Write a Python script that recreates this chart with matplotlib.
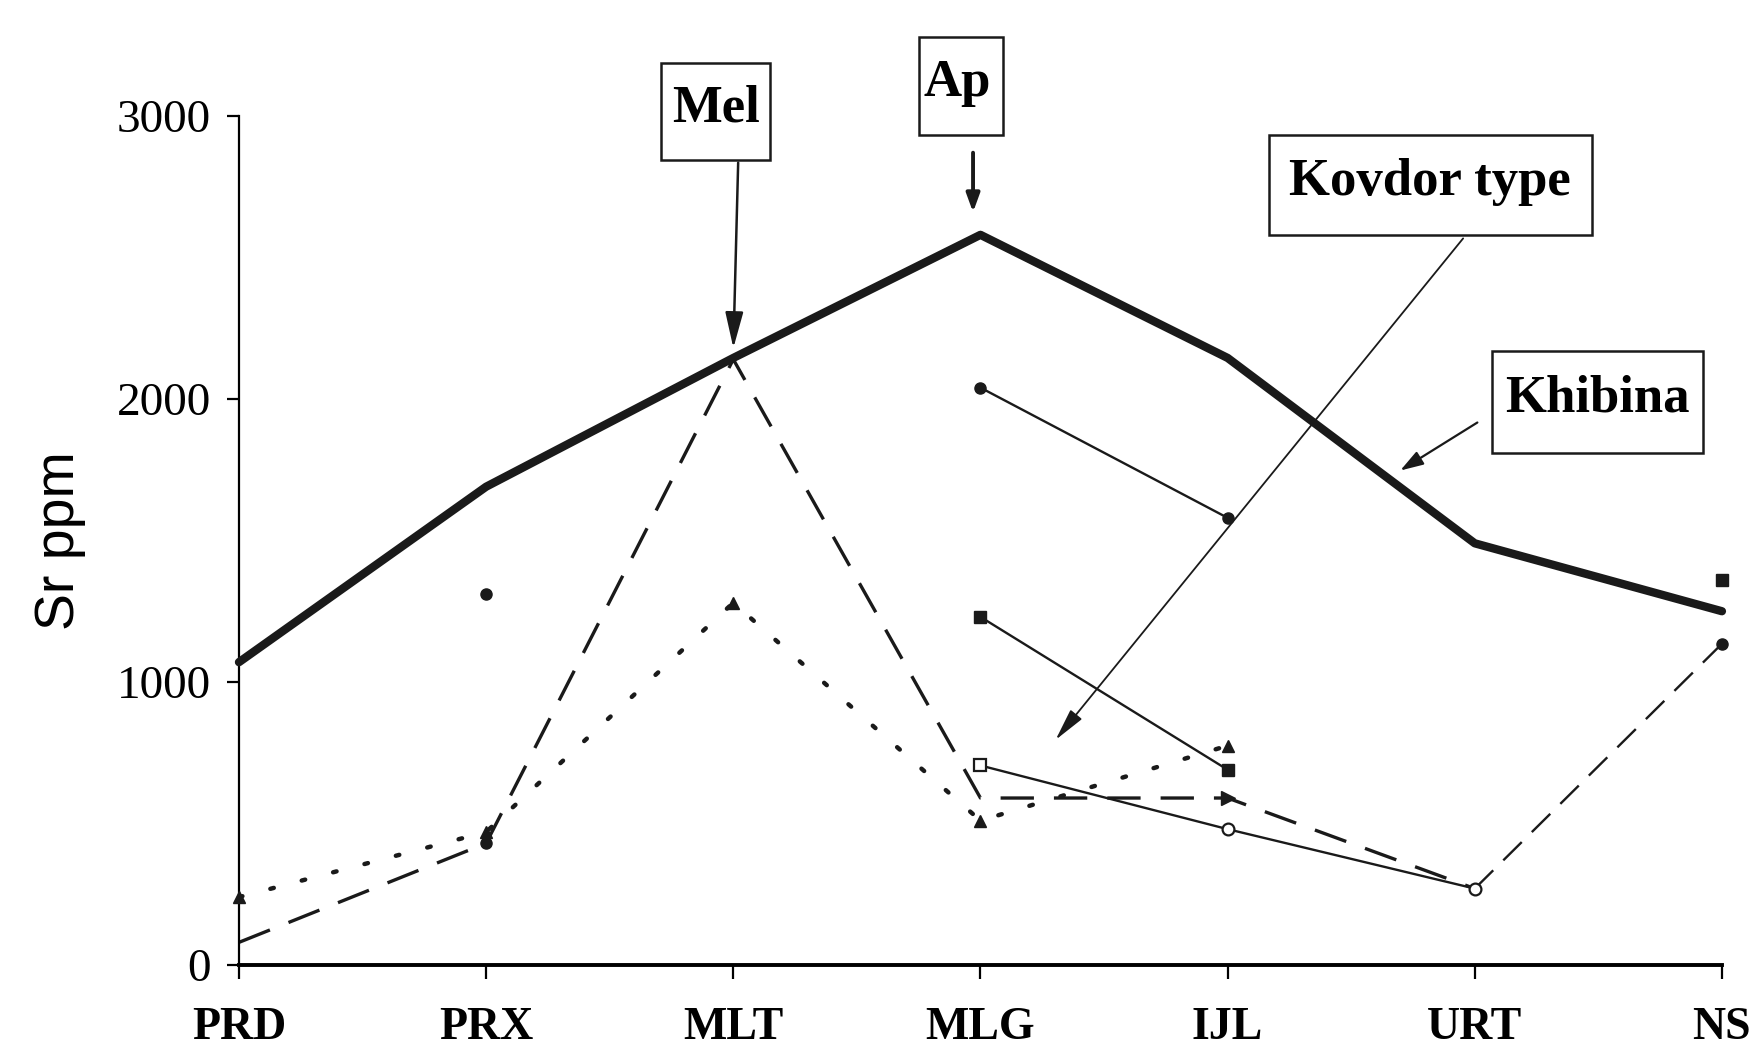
import numpy as np
import matplotlib
matplotlib.use("Agg")
import matplotlib.pyplot as plt
from matplotlib.patches import Rectangle

# ---------------- data ----------------
categories = ['PRD', 'PRX', 'MLT', 'MLG', 'IJL', 'URT', 'NS']
yticks = [0, 1000, 2000, 3000]

khibina = [1070, 1690, 2145, 2580, 2145, 1490, 1250]
kovdor_dash = [80, 430, 2140, 590, 590, 270]          # PRD..URT
kovdor_dot = [240, 470, 1280, 510, 775]               # PRD..IJL
open_series_x = ['MLG', 'IJL', 'URT']
open_series = [705, 480, 270]
circ_pair_x = ['MLG', 'IJL']
circ_pair = [2040, 1580]
sq_pair_x = ['MLG', 'IJL']
sq_pair = [1230, 690]
urt_ns_x = ['URT', 'NS']
urt_ns = [270, 1135]
prx_point = 1310
ns_square = 1360

plt.rcParams['font.family'] = ['Liberation Serif', 'DejaVu Serif']

fig = plt.figure(figsize=(17.65, 10.58), dpi=100)
ax = fig.add_axes([0.1354, 0.0879, 0.8402, 0.8025])

xi = {c: i for i, c in enumerate(categories)}
x_all = np.arange(len(categories))
K = '#1a1a1a'

# Khibina thick line
ax.plot(x_all, khibina, color=K, lw=6.0, solid_capstyle='round',
        solid_joinstyle='round', zorder=3, clip_on=False)

# long dashed series
ax.plot(x_all[:len(kovdor_dash)], kovdor_dash, color=K, lw=2.4,
        dashes=(10, 6), zorder=2, clip_on=False)
ax.plot([xi['PRX']], [kovdor_dash[1]], 'o', color=K, ms=8, zorder=4, clip_on=False)
ax.plot([xi['IJL']], [kovdor_dash[4]], '>', color=K, ms=10, zorder=4, clip_on=False)

# dotted series with triangles
ax.plot(x_all[:len(kovdor_dot)], kovdor_dot, color=K, lw=3.2,
        dashes=(0.8, 6.5), dash_capstyle='round', zorder=2, clip_on=False)
ax.plot(x_all[:len(kovdor_dot)], kovdor_dot, '^', color=K, ms=9, zorder=4, clip_on=False)

# thin solid series with open markers
ox = [xi[c] for c in open_series_x]
ax.plot(ox, open_series, color=K, lw=1.7, zorder=3)
ax.plot(ox[:1], open_series[:1], 's', mfc='white', mec=K, mew=1.6, ms=8, zorder=5)
ax.plot(ox[1:], open_series[1:], 'o', mfc='white', mec=K, mew=1.6, ms=8.5, zorder=5)

# filled circle pair
cx = [xi[c] for c in circ_pair_x]
ax.plot(cx, circ_pair, color=K, lw=1.7, marker='o', ms=8, zorder=3)

# filled square pair
sx = [xi[c] for c in sq_pair_x]
ax.plot(sx, sq_pair, color=K, lw=1.7, marker='s', ms=9, zorder=3)

# thin dashed URT -> NS
ux = [xi[c] for c in urt_ns_x]
ax.plot(ux, urt_ns, color=K, lw=1.7, dashes=(11, 6), zorder=2, clip_on=False)
ax.plot(ux[1:], urt_ns[1:], 'o', color=K, ms=8, zorder=4, clip_on=False)

# isolated points
ax.plot([xi['PRX']], [prx_point], 'o', color=K, ms=8, zorder=4)
ax.plot([xi['NS']], [ns_square], 's', color=K, ms=9, zorder=4, clip_on=False)

# ---------------- axes styling ----------------
ax.set_xlim(0, 6)
ax.set_ylim(0, 3000)
for s in ['top', 'right']:
    ax.spines[s].set_visible(False)
ax.spines['left'].set_linewidth(1.6)
ax.spines['bottom'].set_linewidth(2.8)
ax.set_xticks(x_all)
ax.set_xticklabels(categories, fontsize=33, fontweight='bold')
ax.set_yticks(yticks)
ax.set_yticklabels([str(v) for v in yticks], fontsize=34)
ax.tick_params(axis='x', length=10, width=1.6, pad=20, direction='out')
ax.tick_params(axis='y', length=9, width=1.6, pad=11, direction='out')
ax.set_ylabel('Sr ppm', fontsize=40, family=['Liberation Sans', 'DejaVu Sans'],
              labelpad=22)
ax.patch.set_visible(False)

# ---------------- annotations ----------------
def box(x0, x1, y0, y1):
    r = Rectangle((x0, y0), x1 - x0, y1 - y0, fill=False, ec=K, lw=1.8,
                  clip_on=False, zorder=6)
    ax.add_patch(r)
    return r

txt_kw = dict(fontsize=38, fontweight='bold', ha='center', va='center',
              zorder=7, clip_on=False)

# Mel
box(1.707, 2.148, 2845, 3187)
ax.text(1.928, 3025, 'Mel', **txt_kw)
ax.annotate('', xy=(2.0, 2170), xytext=(2.02, 2845), annotation_clip=False,
            arrowprops=dict(arrowstyle='-|>,head_length=2.2,head_width=0.55',
                            color=K, lw=1.8))

# Ap
rap = box(2.751, 3.091, 2933, 3279)
tap = ax.text(2.77, 3115, 'Ap', fontsize=38, fontweight='bold', ha='left',
              va='center', zorder=7)
tap.set_clip_path(rap)
ax.annotate('', xy=(2.97, 2650), xytext=(2.97, 2880), annotation_clip=False,
            arrowprops=dict(arrowstyle='-|>,head_length=1.1,head_width=0.4',
                            color=K, lw=2.8))

# Kovdor type
box(4.167, 5.473, 2580, 2933)
ax.text(4.82, 2765, 'Kovdor type', **txt_kw)
ax.annotate('', xy=(3.297, 788), xytext=(4.96, 2575), annotation_clip=False,
            arrowprops=dict(arrowstyle='-|>,head_length=2.0,head_width=0.45',
                            color=K, lw=1.3))

# Khibina
box(5.069, 5.922, 1809, 2170)
ax.text(5.495, 2000, 'Khibina', **txt_kw)
ax.annotate('', xy=(4.689, 1742), xytext=(5.02, 1922), annotation_clip=False,
            arrowprops=dict(arrowstyle='-|>,head_length=1.4,head_width=0.45',
                            color=K, lw=1.6))

fig.savefig('out.png', dpi=100, facecolor='white')
